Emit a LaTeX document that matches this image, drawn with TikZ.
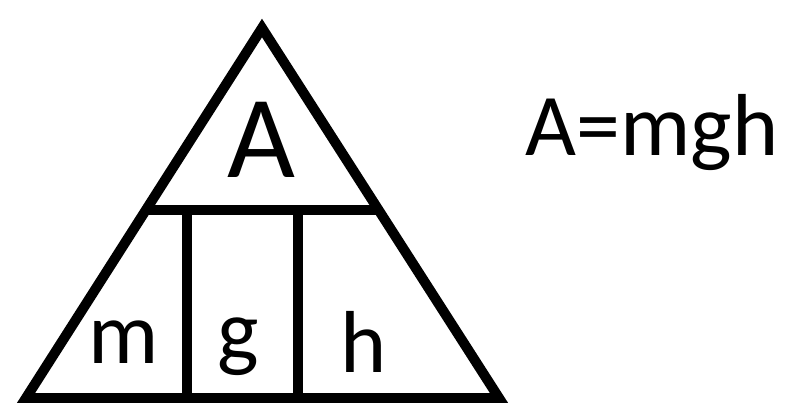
\documentclass[tikz,border=0pt]{standalone}
\usepackage{fontspec}
\setmainfont{Carlito}
\tikzset{every picture/.style={line width=0.75pt}}
\tikzset{
  bar/.style={line width=7.5pt},
  lbl/.style={anchor=base, inner sep=0pt}
}

\begin{document}
\begin{tikzpicture}[x=0.75pt,y=0.75pt,yscale=-1,xscale=1]
\useasboundingbox (0,0) rectangle (792,403);

% corners
\coordinate (top) at (262,28);
\coordinate (bl) at (26,398);
\coordinate (br) at (499,398);
\coordinate (ml) at (145,210);
\coordinate (mr) at (380,210);
\coordinate (v1t) at (187,210);
\coordinate (v1b) at (187,398);
\coordinate (v2t) at (298,210);
\coordinate (v2b) at (298,398);

%Triangle
\draw [bar, line join=miter] (top) -- (br) -- (bl) -- cycle ;
%Straight Lines
\draw [bar] (ml) -- (mr) ;
\draw [bar] (v1t) -- (v1b) ;
\draw [bar] (v2t) -- (v2b) ;

% Text Node
\node (a) [lbl, font=\fontsize{88}{88}\selectfont] at (261,177) {A};
% Text Node
\node (m) [lbl, font=\fontsize{66}{66}\selectfont] at (124,363) {m};
% Text Node
\node (g) [lbl, font=\fontsize{66}{66}\selectfont] at (238,360) {g};
% Text Node
\node (h) [lbl, font=\fontsize{66}{66}\selectfont] at (364,372) {h};
% Text Node
\node (eq) [lbl, font=\fontsize{66}{66}\selectfont] at (652,155) {A=mgh};

\end{tikzpicture}
\end{document}
